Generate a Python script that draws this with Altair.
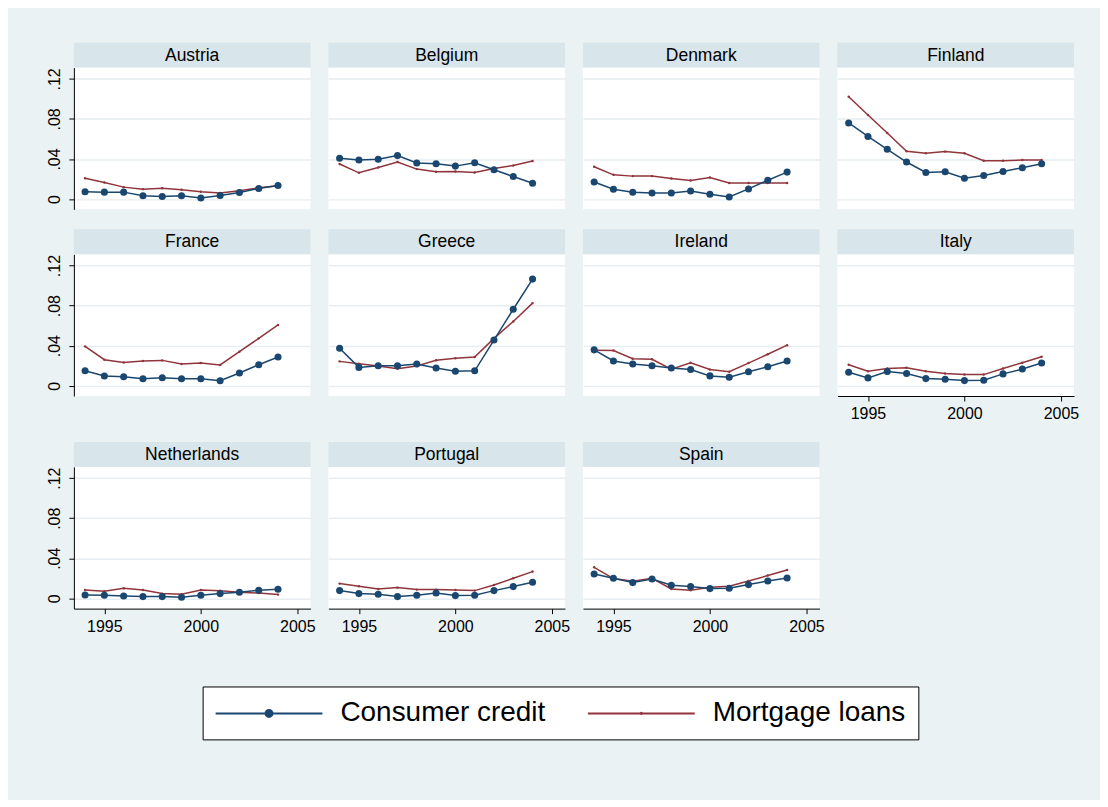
import altair as alt
import pandas as pd

YEARS = list(range(1994, 2005))
SERIES = ["Consumer credit", "Mortgage loans"]
COLORS = ["#1A476F", "#90353B"]

ROWS = [
    ["Austria", "Belgium", "Denmark", "Finland"],
    ["France", "Greece", "Ireland", "Italy"],
    ["Netherlands", "Portugal", "Spain"],
]

consumer_credit = {
    "Austria":     [0.0073, 0.0069, 0.0069, 0.0033, 0.0026, 0.0033, 0.0010, 0.0036, 0.0066, 0.0106, 0.0136],
    "Belgium":     [0.0407, 0.0390, 0.0397, 0.0434, 0.0360, 0.0353, 0.0329, 0.0363, 0.0292, 0.0225, 0.0158],
    "Denmark":     [0.0171, 0.0098, 0.0067, 0.0060, 0.0060, 0.0081, 0.0047, 0.0020, 0.0101, 0.0188, 0.0269],
    "Finland":     [0.0760, 0.0625, 0.0497, 0.0370, 0.0266, 0.0272, 0.0208, 0.0235, 0.0276, 0.0313, 0.0353],
    "France":      [0.0150, 0.0097, 0.0090, 0.0070, 0.0080, 0.0070, 0.0070, 0.0050, 0.0127, 0.0210, 0.0287],
    "Greece":      [0.0375, 0.0183, 0.0199, 0.0199, 0.0216, 0.0176, 0.0145, 0.0149, 0.0456, 0.0764, 0.1065],
    "Ireland":     [0.0358, 0.0247, 0.0216, 0.0199, 0.0176, 0.0162, 0.0098, 0.0084, 0.0139, 0.0189, 0.0247],
    "Italy":       [0.0135, 0.0078, 0.0142, 0.0122, 0.0071, 0.0064, 0.0051, 0.0054, 0.0118, 0.0166, 0.0226],
    "Netherlands": [0.0033, 0.0030, 0.0023, 0.0017, 0.0017, 0.0010, 0.0030, 0.0047, 0.0060, 0.0080, 0.0090],
    "Portugal":    [0.0077, 0.0047, 0.0040, 0.0017, 0.0030, 0.0053, 0.0027, 0.0030, 0.0077, 0.0117, 0.0160],
    "Spain":       [0.0243, 0.0200, 0.0157, 0.0193, 0.0130, 0.0117, 0.0097, 0.0100, 0.0137, 0.0173, 0.0203],
}

mortgage_loans = {
    "Austria":     [0.0208, 0.0165, 0.0119, 0.0099, 0.0109, 0.0093, 0.0073, 0.0060, 0.0083, 0.0112, 0.0132],
    "Belgium":     [0.0350, 0.0262, 0.0316, 0.0370, 0.0299, 0.0272, 0.0276, 0.0266, 0.0306, 0.0336, 0.0380],
    "Denmark":     [0.0323, 0.0242, 0.0229, 0.0229, 0.0205, 0.0185, 0.0215, 0.0161, 0.0161, 0.0161, 0.0161],
    "Finland":     [0.1022, 0.0840, 0.0660, 0.0477, 0.0457, 0.0474, 0.0457, 0.0383, 0.0383, 0.0390, 0.0390],
    "France":      [0.0393, 0.0260, 0.0233, 0.0247, 0.0253, 0.0217, 0.0227, 0.0207, 0.0340, 0.0473, 0.0607],
    "Greece":      [0.0243, 0.0220, 0.0196, 0.0169, 0.0196, 0.0254, 0.0274, 0.0287, 0.0473, 0.0642, 0.0825],
    "Ireland":     [0.0355, 0.0351, 0.0270, 0.0264, 0.0166, 0.0230, 0.0162, 0.0139, 0.0226, 0.0314, 0.0405],
    "Italy":       [0.0209, 0.0145, 0.0172, 0.0179, 0.0145, 0.0122, 0.0111, 0.0111, 0.0172, 0.0230, 0.0290],
    "Netherlands": [0.0083, 0.0070, 0.0100, 0.0083, 0.0047, 0.0040, 0.0083, 0.0076, 0.0060, 0.0053, 0.0037],
    "Portugal":    [0.0147, 0.0120, 0.0093, 0.0107, 0.0087, 0.0087, 0.0083, 0.0077, 0.0133, 0.0200, 0.0267],
    "Spain":       [0.0310, 0.0197, 0.0170, 0.0200, 0.0093, 0.0080, 0.0110, 0.0120, 0.0173, 0.0227, 0.0283],
}

X_TICKS = [1995, 2000, 2005]
Y_TICKS = [0, 0.04, 0.08, 0.12]

FONT = "Liberation Sans"
BG = "#EAF2F3"
STRIP = "#D8E5EA"
GRID = "#E6EEF1"

W = 237
H = 142
STRIP_H = 25
X_DOM = [1993.42, 2005.68]
Y_DOM = [-0.0103, 0.1313]

COLOR_SCALE = alt.Scale(domain=SERIES, range=COLORS)


def circle(cx, r):
    return f"M{cx + r:.4f},0A{r:.4f},{r:.4f} 0 1,1 {cx - r:.4f},0A{r:.4f},{r:.4f} 0 1,1 {cx + r:.4f},0"


# legend symbols: line with a dot (consumer credit), plain line (mortgage loans)
SYM = 28.0
unit = SYM / 2
line_len = 107 / unit
cxu = -1 + (107 / 2) / unit
PATH_CC = f"M-1,0L{-1 + line_len:.4f},0" + circle(cxu, 3.5 / unit) + circle(cxu, 2.0 / unit) + circle(cxu, 0.6 / unit)
PATH_ML = f"M-1,0L{-1 + line_len:.4f},0" + circle(cxu, 0.6 / unit)

LEG = alt.Legend(
    title=None, orient="none", legendX=129, legendY=620, direction="horizontal", columns=2,
    fillColor="white", strokeColor="black", padding=12,
    labelFontSize=28, labelFont=FONT, labelColor="black", labelLimit=400,
    symbolSize=SYM * SYM, symbolStrokeWidth=2, labelOffset=107 - SYM + 17, columnPadding=38,
    symbolOpacity=1,
)


def panel(name, show_y, show_x, with_legend=False):
    rows = []
    for i, yr in enumerate(YEARS):
        rows.append({"year": yr, "series": SERIES[0], "value": consumer_credit[name][i]})
        rows.append({"year": yr, "series": SERIES[1], "value": mortgage_loans[name][i]})
    df = pd.DataFrame(rows)

    if show_x:
        xaxis = alt.Axis(values=X_TICKS, format="d", title=None, grid=False,
                         labelFontSize=16, labelFont=FONT, labelColor="black",
                         tickSize=5, tickColor="black", domainColor="black", labelPadding=5)
    else:
        xaxis = None
    if show_y:
        yaxis = alt.Axis(values=Y_TICKS, title=None, grid=True, gridColor=GRID, gridWidth=1.5,
                         labelExpr="datum.value == 0 ? '0' : replace(format(datum.value, '.2f'), '0.', '.')",
                         labelAngle=270, labelAlign="center", labelBaseline="bottom",
                         labelFontSize=16, labelFont=FONT, labelColor="black", labelPadding=6,
                         tickSize=5, tickColor="black", domainColor="black")
    else:
        yaxis = alt.Axis(values=Y_TICKS, title=None, grid=True, gridColor=GRID, gridWidth=1.5,
                         labels=False, ticks=False, domain=False)

    x = alt.X("year:Q", scale=alt.Scale(domain=X_DOM, nice=False, zero=False), axis=xaxis)
    y = alt.Y("value:Q", scale=alt.Scale(domain=Y_DOM, nice=False, zero=False), axis=yaxis)
    color = alt.Color("series:N", scale=COLOR_SCALE, legend=None)

    base = alt.Chart(df)
    strip_df = pd.DataFrame({"name": [name]})
    strip = alt.Chart(strip_df).mark_rect(color=STRIP).encode(
        x=alt.value(0), x2=alt.value(W), y=alt.value(-STRIP_H), y2=alt.value(0))
    strip_text = alt.Chart(strip_df).mark_text(font=FONT, fontSize=17.5, color="black",
                                               baseline="middle", align="center").encode(
        text="name:N", x=alt.value(W / 2), y=alt.value(-STRIP_H / 2 + 0.5))

    ml_line = base.transform_filter(alt.datum.series == SERIES[1]).mark_line(strokeWidth=1.5).encode(
        x=x, y=y, color=color)
    ml_pts = base.transform_filter(alt.datum.series == SERIES[1]).mark_point(
        filled=True, size=6, opacity=1).encode(x=x, y=y, color=color)
    cc_line = base.transform_filter(alt.datum.series == SERIES[0]).mark_line(strokeWidth=1.5).encode(
        x=x, y=y, color=color)
    cc_pts = base.transform_filter(alt.datum.series == SERIES[0]).mark_point(
        filled=True, size=50, opacity=1).encode(x=x, y=y, color=color)

    layers = []
    if with_legend:
        leg_df = pd.DataFrame({"series": SERIES})
        leg = alt.Chart(leg_df).mark_point(filled=False, opacity=1, strokeWidth=2, size=0).encode(
            color=alt.Color("series:N", scale=COLOR_SCALE, legend=LEG),
            shape=alt.Shape("series:N", scale=alt.Scale(domain=SERIES, range=[PATH_CC, PATH_ML]), legend=LEG),
        )
        layers.append(leg)
    layers += [strip, strip_text, ml_line, ml_pts, cc_line, cc_pts]
    return alt.layer(*layers).properties(
        width=W, height=H, view=alt.ViewBackground(fill="white", stroke=None))


row_charts = []
for r, names in enumerate(ROWS):
    panels = []
    for c, nm in enumerate(names):
        show_x = (r == 2) or (r == 1 and c == 3)
        panels.append(panel(nm, c == 0, show_x, with_legend=(r == 0 and c == 0)))
    row_charts.append(alt.hconcat(*panels, spacing=18, bounds="flush"))

chart = alt.vconcat(*row_charts, spacing=20).properties(
    background=BG,
    padding={"left": 38, "top": 34, "right": 21, "bottom": 59},
).configure_view(stroke=None)

chart.save("out.html", embed_options={"renderer": "svg", "actions": False})
